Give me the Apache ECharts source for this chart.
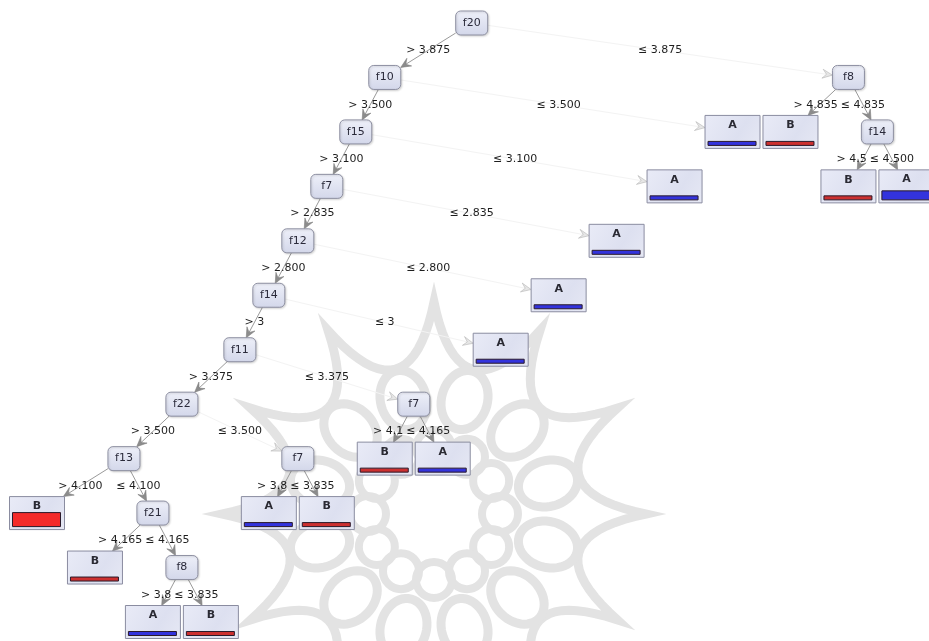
<!DOCTYPE html>
<html>
<head>
<meta charset="utf-8">
<script src="https://cdn.jsdelivr.net/npm/echarts@6/dist/echarts.min.js"></script>
<style>
html,body{margin:0;padding:0;background:#fff;}
#main{width:929px;height:641px;}
</style>
</head>
<body>
<div id="main"></div>
<script>
// ---- Tree data (pre-order, ">" branch first) ----
const nodeLabels = ['f20','f10','f15','f7','f12','f14','f11','f22','f13','B','f21','B','f8','A','B','f7','A','B','f7','B','A','A','A','A','A','A','f8','B','f14','B','A'];
const parentIndex = [-1,0,1,2,3,4,5,6,7,8,8,10,10,12,12,7,15,15,6,18,18,5,4,3,2,1,0,26,26,28,28];
const edgeLabels = ['','> 3.875','> 3.500','> 3.100','> 2.835','> 2.800','> 3','> 3.375','> 3.500','> 4.100','≤ 4.100','> 4.165','≤ 4.165','> 3.8','≤ 3.835','≤ 3.500','> 3.8','≤ 3.835','≤ 3.375','> 4.1','≤ 4.165','≤ 3','≤ 2.800','≤ 2.835','≤ 3.100','≤ 3.500','≤ 3.875','> 4.835','≤ 4.835','> 4.5','≤ 4.500'];
// examples reaching each leaf (estimated from bar thickness), 0 for inner nodes
const leafExamples = [0,0,0,0,0,0,0,0,0,11,0,1,0,1,1,0,1,1,0,1,1,1,1,1,1,1,0,1,0,1,6];
const classColors = {A:'#3333dd', B:'#cc3030'};

// ---- layout derived from the tree structure ----
const N = nodeLabels.length;
const children = nodeLabels.map(()=>[]);
parentIndex.forEach((p,i)=>{ if(p>=0) children[p].push(i); });
const depth = new Array(N).fill(0);
for (let i=1;i<N;i++) depth[i] = depth[parentIndex[i]]+1;
const leafPos = new Array(N).fill(0);
let leafCounter = 0;
function assign(i){
  if(children[i].length===0){ leafPos[i]=leafCounter++; return [leafPos[i],leafPos[i]]; }
  let lo=Infinity, hi=-Infinity;
  children[i].forEach(c=>{ const r=assign(c); lo=Math.min(lo,r[0]); hi=Math.max(hi,r[1]); });
  leafPos[i]=(lo+hi)/2; return [lo,hi];
}
assign(0);
const maxDepth = Math.max.apply(null, depth);
const isLeaf = i => children[i].length===0;

const edgeData = [], edgeIdx = [];
for (let i=1;i<N;i++){ const p=parentIndex[i]; edgeData.push([leafPos[p],depth[p],leafPos[i],depth[i]]); edgeIdx.push(i); }
const innerData = [], innerIdx = [], leafData = [], leafIdx = [];
for (let i=0;i<N;i++){
  if(isLeaf(i)){ leafData.push([leafPos[i],depth[i]]); leafIdx.push(i); }
  else { innerData.push([leafPos[i],depth[i]]); innerIdx.push(i); }
}

const FONT = 'DejaVu Sans, Verdana, sans-serif';
const LABEL_FONT = '11px ' + FONT;
const measureCtx = document.createElement('canvas').getContext('2d');
measureCtx.font = LABEL_FONT;
const textW = s => measureCtx.measureText(s).width;

const INNER = {hw:16, hh:12};
const LEAF = {hw:27.5, hh:16.5};
const nodeFill = new echarts.graphic.LinearGradient(0,0,0,1,[{offset:0,color:'#eef0f9'},{offset:1,color:'#d3d7ea'}]);
const leafFill = new echarts.graphic.LinearGradient(0,0,1,1,[{offset:0,color:'#e9ebf7'},{offset:0.6,color:'#dde0f0'},{offset:1,color:'#e6e8f4'}]);

function renderEdge(params, api){
  const ni = edgeIdx[params.dataIndex];
  const pi = parentIndex[ni];
  const p = api.coord([api.value(0), api.value(1)]);
  const c = api.coord([api.value(2), api.value(3)]);
  const hp = isLeaf(pi)?LEAF:INNER, hc = isLeaf(ni)?LEAF:INNER;
  const dx=c[0]-p[0], dy=c[1]-p[1];
  const adx=Math.abs(dx)||1e-6, ady=Math.abs(dy)||1e-6;
  const tP=Math.min(hp.hw/adx, hp.hh/ady), tC=Math.min(hc.hw/adx, hc.hh/ady);
  const s=[p[0]+tP*dx, p[1]+tP*dy], e=[c[0]-tC*dx, c[1]-tC*dy];
  const len=Math.sqrt(dx*dx+dy*dy), ux=dx/len, uy=dy/len, nx=-uy, ny=ux;
  const faint = adx > 2*ady;
  const lineCol = faint ? '#f3f3f3' : '#9a9a9a';
  const arrowFill = faint ? '#e6e6e6' : '#8c8c8c';
  const arrowStroke = faint ? '#b5b5b5' : '#7d7d7d';
  const L=10, W=4.5;
  // label: centred on the edge; a left-branch label stops before its sibling's label
  let lx = (p[0]+c[0])/2, align = 'center';
  const sibs = children[pi];
  if (sibs.length === 2 && sibs[0] === ni) {
    const sc = api.coord([leafPos[sibs[1]], depth[sibs[1]]]);
    const sibLeft = (p[0]+sc[0])/2 - textW(edgeLabels[sibs[1]])/2;
    const myRight = lx + textW(edgeLabels[ni])/2;
    if (myRight > sibLeft - 3) { lx = sibLeft - 3; align = 'right'; }
  }
  return {type:'group', children:[
    {type:'line', shape:{x1:s[0],y1:s[1],x2:e[0]-ux*5,y2:e[1]-uy*5}, style:{stroke:lineCol, lineWidth:1}, z2:1},
    {type:'polygon', shape:{points:[[e[0],e[1]],[e[0]-L*ux+W*nx,e[1]-L*uy+W*ny],[e[0]-6*ux,e[1]-6*uy],[e[0]-L*ux-W*nx,e[1]-L*uy-W*ny]]},
      style:{fill:arrowFill, stroke:arrowStroke, lineWidth:0.6}, z2:2},
    {type:'text', x:lx, y:(p[1]+c[1])/2, z2:5,
      style:{text:edgeLabels[ni], font:LABEL_FONT, fill:'#1e1e1e', align:align, verticalAlign:'middle'}}
  ]};
}

function renderInner(params, api){
  const ni = innerIdx[params.dataIndex];
  const p = api.coord([api.value(0), api.value(1)]);
  return {type:'group', children:[
    {type:'rect', shape:{x:p[0]-INNER.hw, y:p[1]-INNER.hh, width:INNER.hw*2, height:INNER.hh*2, r:5},
      style:{fill:nodeFill, stroke:'#8e90a2', lineWidth:1, shadowBlur:2, shadowColor:'rgba(0,0,0,0.15)', shadowOffsetX:1, shadowOffsetY:1}},
    {type:'text', x:p[0], y:p[1], style:{text:nodeLabels[ni], font:'11px '+FONT, fill:'#2a2a3a', align:'center', verticalAlign:'middle'}}
  ]};
}

function renderLeaf(params, api){
  const ni = leafIdx[params.dataIndex];
  const p = api.coord([api.value(0), api.value(1)]);
  const cls = nodeLabels[ni];
  const top = p[1]-LEAF.hh, left = p[0]-LEAF.hw;
  const h = 3 + leafExamples[ni];
  const bottom = top + 30;
  const heavy = leafExamples[ni] > 3;
  const col = heavy && cls==='B' ? '#f42a2a' : classColors[cls];
  return {type:'group', children:[
    {type:'rect', shape:{x:left, y:top, width:LEAF.hw*2, height:LEAF.hh*2},
      style:{fill:leafFill, stroke:'#8a8ca0', lineWidth:1}},
    {type:'text', x:p[0], y:top+(heavy?9.5:10), style:{text:cls, font:'bold 11px '+FONT, fill:'#2a2a33', align:'center', verticalAlign:'middle'}},
    {type:'rect', shape:{x:left+3, y:bottom-h, width:48, height:h},
      style:{fill:col, stroke:'#2a1a2a', lineWidth:1}}
  ]};
}

// ---- faint background watermark (decorative, drawn in pixels) ----
function watermark(){
  const C=[434,514], WM='#e3e3e3', out=[];
  const rad = d => d*Math.PI/180;
  const star=[]; const R=212, rc=95;
  for(let k=0;k<12;k++){
    const a0=rad(k*30), a1=rad((k+1)*30), am=rad(k*30+15);
    const P0=[C[0]+R*Math.cos(a0), C[1]+R*Math.sin(a0)], P1=[C[0]+R*Math.cos(a1), C[1]+R*Math.sin(a1)];
    const Q=[C[0]+rc*Math.cos(am), C[1]+rc*Math.sin(am)];
    for(let t=0;t<1;t+=0.05){ const u=1-t; star.push([u*u*P0[0]+2*u*t*Q[0]+t*t*P1[0], u*u*P0[1]+2*u*t*Q[1]+t*t*P1[1]]); }
  }
  out.push({type:'polygon', shape:{points:star}, style:{fill:'none', stroke:WM, lineWidth:9}, z:0, silent:true});
  for(let k=0;k<12;k++){
    const th=rad(15+30*k), ux=Math.cos(th), uy=Math.sin(th);
    const cx=C[0]+118*ux, cy=C[1]+118*uy, pts=[];
    for(let j=0;j<48;j++){ const t=j/48*2*Math.PI; const a=30*Math.cos(t), b=23*Math.sin(t); pts.push([cx+a*ux-b*uy, cy+a*uy+b*ux]); }
    out.push({type:'polygon', shape:{points:pts}, style:{fill:'none', stroke:WM, lineWidth:9}, z:0, silent:true});
  }
  for(let k=0;k<12;k++){
    const th=rad(30*k);
    out.push({type:'circle', shape:{cx:C[0]+66*Math.cos(th), cy:C[1]+66*Math.sin(th), r:18}, style:{fill:'none', stroke:WM, lineWidth:8}, z:0, silent:true});
  }
  return out;
}

const chart = echarts.init(document.getElementById('main'));
chart.setOption({
  animation:false,
  backgroundColor:'#ffffff',
  graphic: watermark(),
  grid:{left:37, right:22.6, top:23, bottom:19},
  xAxis:{type:'value', min:0, max:leafCounter-1, show:false},
  yAxis:{type:'value', min:0, max:maxDepth, inverse:true, show:false},
  series:[
    {type:'custom', name:'edges', renderItem:renderEdge, data:edgeData, encode:{x:[0,2], y:[1,3]}, z:5, silent:true},
    {type:'custom', name:'inner', renderItem:renderInner, data:innerData, encode:{x:0, y:1}, z:6, silent:true},
    {type:'custom', name:'leaves', renderItem:renderLeaf, data:leafData, encode:{x:0, y:1}, z:6, silent:true}
  ]
});
</script>
</body>
</html>
